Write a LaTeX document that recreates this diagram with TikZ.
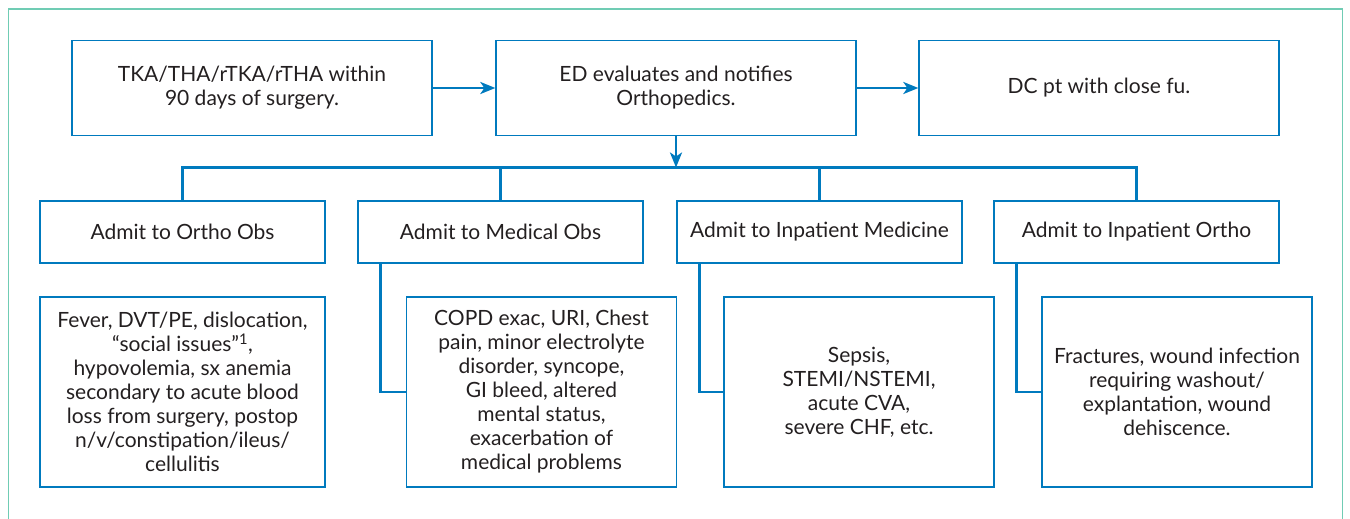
\documentclass[tikz,border=0pt]{standalone}
\usepackage{fontspec}
\setmainfont{Lato}
\usepackage{xcolor}
\usepackage{tikz}
\usetikzlibrary{arrows.meta, positioning}
\definecolor{flowblue}{RGB}{0,122,190}
\definecolor{frameteal}{RGB}{112,204,180}
\definecolor{txtgray}{RGB}{35,31,32}

\begin{document}
\begin{tikzpicture}[x=1pt, y=-1pt,
	box/.style={draw=flowblue, line width=1.3pt, align=center, text=txtgray, font=\fontsize{21}{24}\selectfont, inner sep=4pt},
	topbox/.style={box, minimum width=360pt, minimum height=95pt},
	admitbox/.style={box, minimum width=285pt, minimum height=62pt},
	reasonbox/.style={box, minimum width=270pt, minimum height=190pt},
	link/.style={draw=flowblue, line width=2.6pt},
	flow/.style={link, -{Stealth[length=15pt, width=12pt, inset=4pt]}}]
				\useasboundingbox (0,0) rectangle (1350,519);
				\draw[frameteal, line width=1.2pt] (8.5,519) |- (1342.5,9) -- (1342.5,519);

				\node[topbox] (surgery) at (252, 88) {TKA/THA/rTKA/rTHA within\\ 90 days of surgery.};
				\node[topbox] (ed) at (676, 88) {ED evaluates and notifies\\ Orthopedics.};
				\node[topbox] (dc) at (1099, 88) {DC pt with close fu.};
				\draw[flow] (surgery) -- (ed);
				\draw[flow] (ed) -- (dc);

				\node[admitbox] (orthoobs) at (182.5, 232) {Admit to Ortho Obs};
				\node[admitbox] (medobs) at (500.5, 232) {Admit to Medical Obs};
				\node[admitbox] (inpmed) at (819.5, 232) {Admit to Inpatient Medicine};
				\node[admitbox] (inportho) at (1136.5, 232) {Admit to Inpatient Ortho};

				\coordinate (bus) at (676, 167.5);
				\draw[flow] (ed) -- (bus);
				\draw[link] (orthoobs.north) -- (orthoobs.north |- bus) -- (inportho.north |- bus) -- (inportho.north);
				\draw[link] (medobs.north) -- (medobs.north |- bus);
				\draw[link] (inpmed.north) -- (inpmed.north |- bus);

				\node[reasonbox, minimum width=285pt] (orthowhy) at (182.5, 392) {Fever, DVT/PE, dislocation,\\ “social issues”\textsuperscript{1},\\ hypovolemia, sx anemia\\ secondary to acute blood\\ loss from surgery, postop\\ n/v/constipation/ileus/\\ cellulitis};
				\node[reasonbox] (medwhy) at (541.5, 392) {COPD exac, URI, Chest\\ pain, minor electrolyte\\ disorder, syncope,\\ GI bleed, altered\\ mental status,\\ exacerbation of\\ medical problems};
				\node[reasonbox] (inpmedwhy) at (859, 392) {Sepsis,\\ STEMI/NSTEMI,\\ acute CVA,\\ severe CHF, etc.};
				\node[reasonbox] (inporthowhy) at (1177, 392) {Fractures, wound infection\\ requiring washout/\\ explantation, wound\\ dehiscence.};

				\draw[link] ([xshift=23pt]medobs.south west) |- (medwhy.west);
				\draw[link] ([xshift=23pt]inpmed.south west) |- (inpmedwhy.west);
				\draw[link] ([xshift=23pt]inportho.south west) |- (inporthowhy.west);
			\end{tikzpicture}
\end{document}
